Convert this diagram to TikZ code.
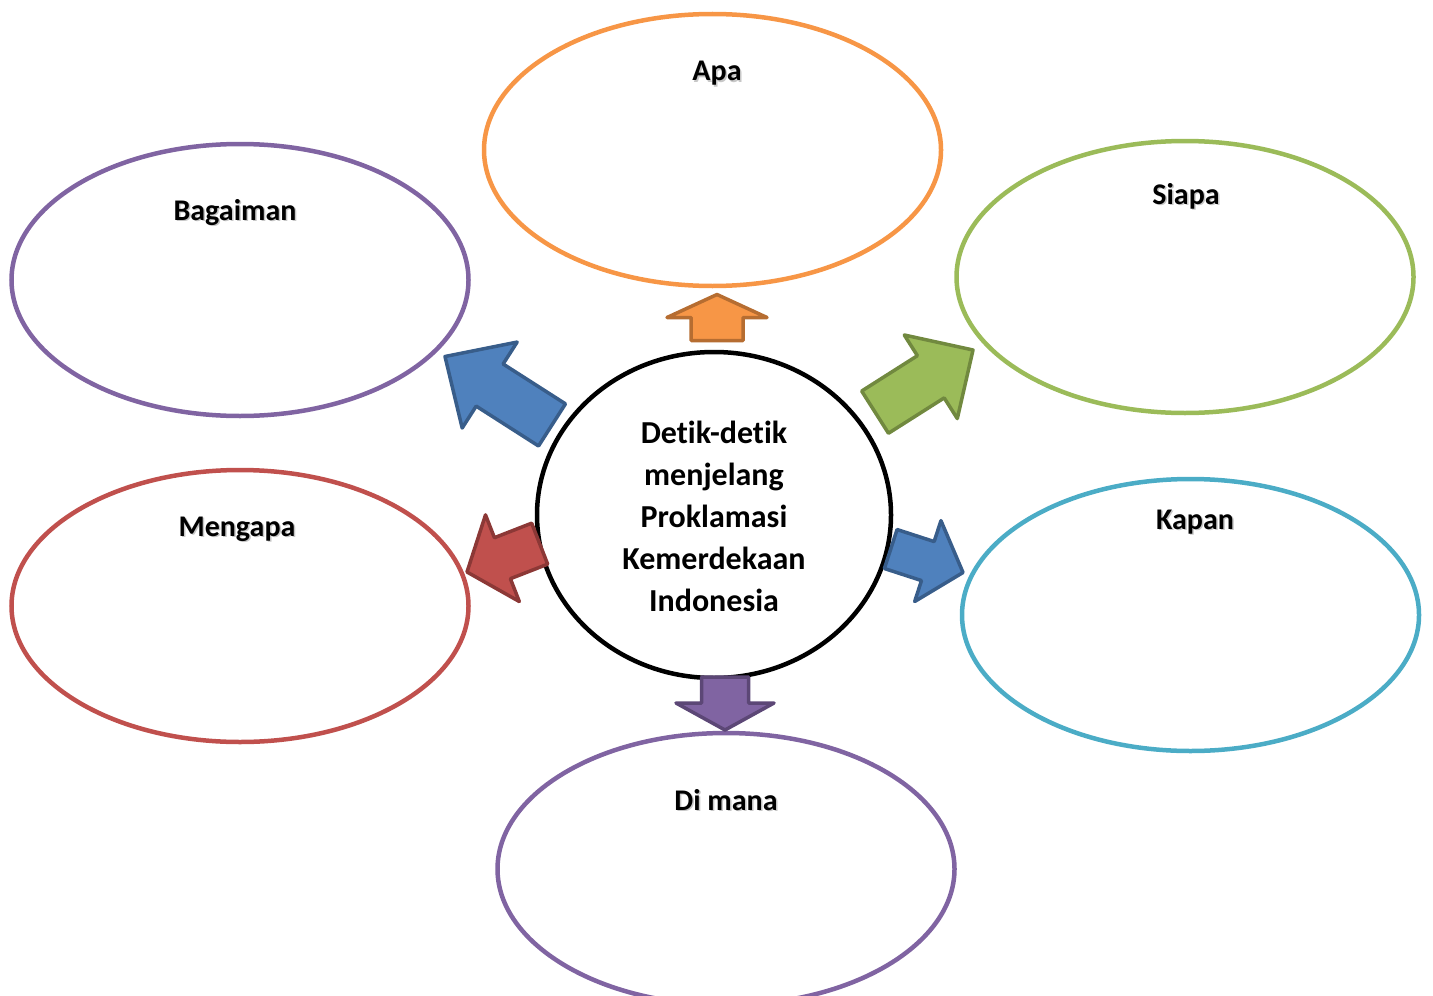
\documentclass[tikz,border=0pt]{standalone}
\usepackage{fontspec}
\setmainfont{Carlito}[Ligatures=NoCommon]
\usetikzlibrary{shapes.geometric}
\definecolor{cOrange}{HTML}{F79646}
\definecolor{cOrangeD}{HTML}{B66D31}
\definecolor{cPurple}{HTML}{8064A2}
\definecolor{cPurpleD}{HTML}{5C4776}
\definecolor{cGreen}{HTML}{9BBB59}
\definecolor{cGreenD}{HTML}{71893F}
\definecolor{cRed}{HTML}{C0504D}
\definecolor{cRedD}{HTML}{8C3836}
\definecolor{cTeal}{HTML}{4BACC6}
\definecolor{cBlue}{HTML}{4F81BD}
\definecolor{cBlueD}{HTML}{385D8A}
\tikzset{
  bubble/.style={ellipse, draw=#1, line width=2.25pt, inner sep=0pt,
    minimum width=228.5pt, minimum height=136pt},
  hub/.style={ellipse, draw=black, line width=2.25pt, inner sep=0pt,
    minimum width=177pt, minimum height=163pt},
  lbl/.style={font=\bfseries\fontsize{15}{17}\selectfont, anchor=base, inner sep=0pt},
  hubtext/.style={font=\bfseries\fontsize{16}{21}\selectfont, align=center, inner sep=0pt},
  barr/.style={fill=#1, line width=1.75pt, line join=round},
}
\newcommand\blockarr[7]{% tip, angle, L, h, wh, ws, style
  \draw[#7, shift={#1}, rotate=#2] (0,0) -- (-#4,#5) -- (-#4,#6) -- (-#3,#6)
    -- (-#3,-#6) -- (-#4,-#6) -- (-#4,-#5) -- cycle;}
\newcommand\shlabel[3]{%
  \node[lbl, text=black!22] at ([shift={(1.5,1.5)}]#2) {#3};
  \node[lbl] (#1) at (#2) {#3};}
\begin{document}
\begin{tikzpicture}[x=0.5pt, y=-0.5pt]
\useasboundingbox (0,0) rectangle (1433,995);
% bubbles
\node[bubble=cOrange] (apa) at (712.5,150) {};
\node[bubble=cPurple] (bagaiman) at (240,280) {};
\node[bubble=cGreen] (siapa) at (1185,277) {};
\node[bubble=cRed] (mengapa) at (240,606) {};
\node[bubble=cTeal] (kapan) at (1190.5,615) {};
\node[bubble=cPurple] (dimana) at (726,869) {};
% hub
\node[hub] (hub) at (714,515) {};
\node[hubtext] (hubtxt) at (714,516) {Detik-detik\\menjelang\\Proklamasi\\Kemerdekaan\\Indonesia};
% labels
\shlabel{lapa}{717,81}{Apa}
\shlabel{lbag}{235,220}{Bagaiman}
\shlabel{lsia}{1186,204}{Siapa}
\shlabel{lmen}{237,536}{Mengapa}
\shlabel{lkap}{1195,529}{Kapan}
\shlabel{ldim}{726,810}{Di mana}
% arrow tips
\coordinate (tApa) at (717,294.5);
\coordinate (tBag) at (445,356.5);
\coordinate (tSia) at (973,350);
\coordinate (tMen) at (467,572);
\coordinate (tKap) at (963,572.5);
\coordinate (tDim) at (725,730);
% block arrows
\blockarr{(tApa)}{90}{46}{23}{50}{26}{barr=cOrange, draw=cOrangeD}
\blockarr{(tBag)}{147.4}{127}{53}{51}{25}{barr=cBlue, draw=cBlueD}
\blockarr{(tSia)}{32.4}{116}{50}{49.5}{25}{barr=cGreen, draw=cGreenD}
\blockarr{(tMen)}{201.3}{78}{38}{46.5}{22}{barr=cRed, draw=cRedD}
\blockarr{(tKap)}{-18}{76}{37}{42.5}{20.5}{barr=cBlue, draw=cBlueD}
\blockarr{(tDim)}{-90}{53}{27}{49}{23.5}{barr=cPurple, draw=cPurpleD}
\end{tikzpicture}
\end{document}
